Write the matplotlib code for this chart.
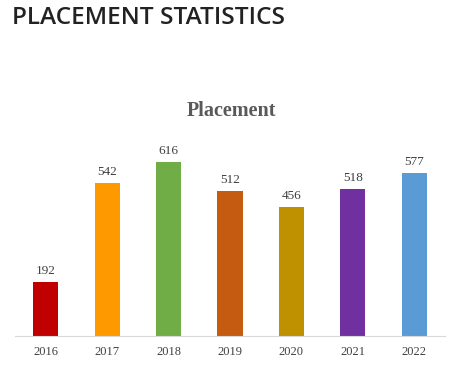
import matplotlib
matplotlib.use("Agg")
import matplotlib.pyplot as plt

years = ["2016", "2017", "2018", "2019", "2020", "2021", "2022"]
placements = [192, 542, 616, 512, 456, 518, 577]
bar_colors = ["#C00000", "#FF9900", "#70AD47", "#C55A11", "#BF9000", "#7030A0", "#5B9BD5"]

fig = plt.figure(figsize=(4.71, 3.76), dpi=100)
fig.text(12 / 471, 1 - 18 / 376, "PLACEMENT STATISTICS", fontsize=17.6,
         family="Open Sans", fontweight="semibold", color="#222222", va="center")
fig.text(231 / 471, 1 - 111 / 376, "Placement", fontsize=14.5,
         family="Liberation Serif", fontweight="bold", color="#595959",
         ha="center", va="center")

ax = fig.add_axes([15 / 471, 40 / 376, 430 / 471, 198 / 376])
x = range(len(years))
bars = ax.bar(x, placements, width=0.41, color=bar_colors)
for b, v in zip(bars, placements):
    ax.text(b.get_x() + b.get_width() / 2, v + 18, str(v), ha="center", va="bottom",
            fontsize=9.5, family="Liberation Serif", color="#404040")

ax.set_xlim(-0.5, 6.5)
ax.set_ylim(0, 700)
ax.set_xticks(list(x))
ax.set_xticklabels(years, family="Liberation Serif", fontsize=9, color="#404040")
ax.tick_params(axis="x", length=0, pad=7)
ax.set_yticks([])
for s in ["top", "right", "left"]:
    ax.spines[s].set_visible(False)
ax.spines["bottom"].set_color("#D9D9D9")
ax.patch.set_alpha(0)

fig.savefig("out.png", dpi=100)
